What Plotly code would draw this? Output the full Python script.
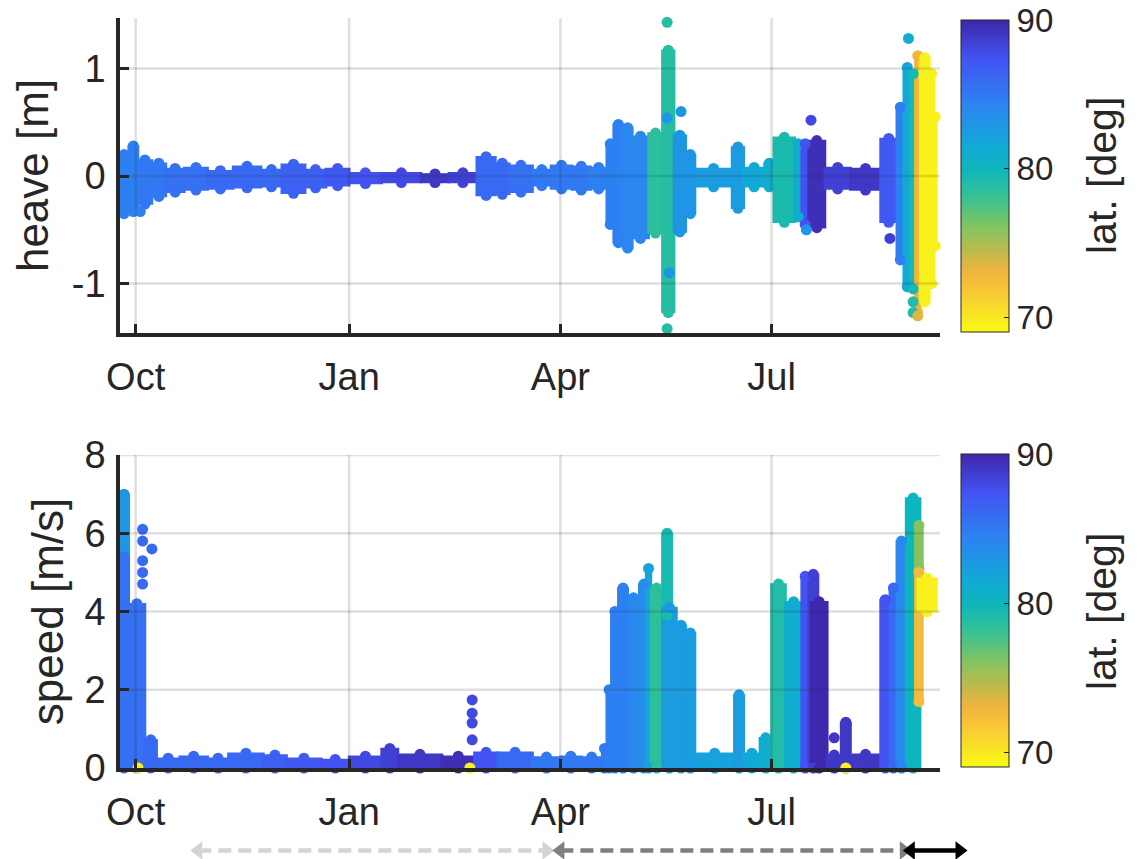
import pandas as pd
import plotly.graph_objects as go

# ---------------- data ----------------
# heave: envelope of the dense point cloud per time segment
heave_start = ["2019-09-24", "2019-09-28", "2019-10-02", "2019-10-08", "2019-10-14", "2019-10-22",
               "2019-11-01", "2019-11-12", "2019-11-24", "2019-12-03", "2019-12-13", "2019-12-22",
               "2020-01-01", "2020-01-15", "2020-02-01", "2020-02-13", "2020-02-25", "2020-03-04",
               "2020-03-10", "2020-03-20", "2020-03-28", "2020-04-06", "2020-04-14", "2020-04-21",
               "2020-04-24", "2020-04-28", "2020-05-02", "2020-05-09", "2020-05-15", "2020-05-20",
               "2020-05-25", "2020-05-29", "2020-06-14", "2020-06-19", "2020-06-28", "2020-07-02",
               "2020-07-11", "2020-07-14", "2020-07-17", "2020-07-24", "2020-08-04", "2020-08-17",
               "2020-08-24", "2020-08-27", "2020-08-30", "2020-09-01", "2020-09-03", "2020-09-07",
               "2020-09-09"]
heave_end = ["2019-09-28", "2019-10-02", "2019-10-08", "2019-10-14", "2019-10-22", "2019-11-01",
             "2019-11-12", "2019-11-24", "2019-12-03", "2019-12-13", "2019-12-22", "2020-01-01",
             "2020-01-15", "2020-02-01", "2020-02-13", "2020-02-25", "2020-03-04", "2020-03-10",
             "2020-03-20", "2020-03-28", "2020-04-06", "2020-04-14", "2020-04-21", "2020-04-24",
             "2020-04-28", "2020-05-02", "2020-05-09", "2020-05-15", "2020-05-20", "2020-05-25",
             "2020-05-29", "2020-06-14", "2020-06-19", "2020-06-28", "2020-07-02", "2020-07-11",
             "2020-07-14", "2020-07-17", "2020-07-24", "2020-08-04", "2020-08-17", "2020-08-24",
             "2020-08-27", "2020-08-30", "2020-09-01", "2020-09-03", "2020-09-07", "2020-09-09",
             "2020-09-10"]
heave_min = [-0.35, -0.33, -0.26, -0.19, -0.15, -0.13, -0.12, -0.11, -0.10, -0.16, -0.11, -0.09,
             -0.07, -0.06, -0.06, -0.06, -0.18, -0.17, -0.15, -0.09, -0.12, -0.13, -0.12, -0.45,
             -0.62, -0.67, -0.58, -0.53, -1.27, -0.52, -0.35, -0.10, -0.30, -0.10, -0.10, -0.43,
             -0.38, -0.45, -0.48, -0.12, -0.13, -0.43, -0.78, -1.03, -1.05, -1.27, -1.17, -1.00,
             -0.65]
heave_max = [0.20, 0.28, 0.15, 0.12, 0.07, 0.08, 0.05, 0.09, 0.06, 0.11, 0.06, 0.07,
             0.03, 0.03, 0.02, 0.03, 0.18, 0.12, 0.10, 0.06, 0.10, 0.09, 0.08, 0.30,
             0.48, 0.45, 0.37, 0.40, 1.17, 0.38, 0.20, 0.07, 0.27, 0.08, 0.12, 0.36,
             0.30, 0.30, 0.33, 0.08, 0.07, 0.35, 0.64, 1.01, 0.95, 1.12, 1.10, 0.95,
             0.55]
heave_lat = [84.5, 84.5, 85, 85, 85.5, 85.5, 86, 86, 86, 86.5, 86.5, 87,
             87.5, 88, 89, 88.5, 86, 86, 85.5, 85, 85, 85, 84.5, 84.5,
             84.5, 84, 84, 78.5, 78.8, 83, 83, 82.5, 82.5, 81.5, 81, 79.3,
             81, 87.5, 89.5, 88.5, 89, 87, 84.5, 81.5, 79.5, 73, 69.5, 69.5,
             69.5]

# isolated heave points
heave_pt_date = ["2019-10-03", "2020-05-17", "2020-05-17", "2020-05-17", "2020-05-18", "2020-05-23",
                 "2020-07-16", "2020-07-18", "2020-08-21", "2020-08-29", "2020-08-31", "2020-08-31",
                 "2020-09-02"]
heave_pt_val = [-0.33, 1.43, -1.42, 0.54, -0.90, 0.60, -0.50, 0.52, -0.58, 1.28, -1.17, -1.27, -1.30]
heave_pt_lat = [84.5, 78.8, 78.8, 83, 83, 83, 83, 88, 88.5, 81, 79, 79, 73.5]

# speed: envelope per time segment
speed_start = ["2019-09-24", "2019-09-24", "2019-09-28", "2019-10-05", "2019-10-10", "2019-10-20",
               "2019-11-01", "2019-11-10", "2019-11-25", "2019-12-05", "2019-12-20", "2020-01-01",
               "2020-01-15", "2020-01-22", "2020-02-10", "2020-02-24", "2020-03-05", "2020-03-20",
               "2020-04-01", "2020-04-10", "2020-04-19", "2020-04-21", "2020-04-23", "2020-04-26",
               "2020-04-30", "2020-05-05", "2020-05-08", "2020-05-10", "2020-05-15", "2020-05-15",
               "2020-05-21", "2020-05-25", "2020-05-29", "2020-06-15", "2020-06-19", "2020-06-26",
               "2020-07-01", "2020-07-07", "2020-07-14", "2020-07-17", "2020-07-18", "2020-07-25",
               "2020-07-31", "2020-08-04", "2020-08-17", "2020-08-21", "2020-08-24", "2020-08-28",
               "2020-09-01", "2020-09-01", "2020-09-02"]
speed_end = ["2019-09-28", "2019-09-28", "2019-10-05", "2019-10-10", "2019-10-20", "2019-11-01",
             "2019-11-10", "2019-11-25", "2019-12-05", "2019-12-20", "2020-01-01", "2020-01-15",
             "2020-01-22", "2020-02-10", "2020-02-24", "2020-03-05", "2020-03-20", "2020-04-01",
             "2020-04-10", "2020-04-19", "2020-04-21", "2020-04-23", "2020-04-26", "2020-04-30",
             "2020-05-05", "2020-05-09", "2020-05-10", "2020-05-15", "2020-05-19", "2020-05-21",
             "2020-05-25", "2020-05-29", "2020-06-15", "2020-06-19", "2020-06-26", "2020-07-01",
             "2020-07-07", "2020-07-14", "2020-07-17", "2020-07-21", "2020-07-25", "2020-07-31",
             "2020-08-04", "2020-08-17", "2020-08-21", "2020-08-24", "2020-08-28", "2020-09-03",
             "2020-09-04", "2020-09-04", "2020-09-10"]
speed_min = [5.4, 0, 0, 0, 0, 0, 0, 0, 0, 0, 0, 0,
             0, 0, 0, 0, 0, 0, 0, 0, 0, 0, 0, 0,
             0, 0, 0, 0, 3.9, 0, 0, 0, 0, 0, 0, 0,
             0, 0, 0, 0, 0, 0, 0, 0, 0, 0, 0, 0,
             5.1, 1.7, 4.0]
speed_max = [7.0, 5.4, 4.2, 0.72, 0.25, 0.30, 0.25, 0.38, 0.33, 0.25, 0.22, 0.30,
             0.50, 0.35, 0.30, 0.40, 0.40, 0.28, 0.30, 0.28, 0.50, 2.0, 4.0, 4.6,
             4.35, 4.7, 5.1, 4.6, 6.0, 4.1, 3.65, 3.45, 0.38, 1.87, 0.38, 0.77,
             4.7, 4.25, 4.9, 4.95, 4.25, 0.33, 1.17, 0.35, 4.3, 4.6, 5.8, 6.9,
             6.2, 5.0, 4.85]
speed_lat = [83, 85.5, 85.5, 86, 86, 86, 86, 86, 86.5, 87, 87.5, 88,
             88.5, 89, 89.5, 87.5, 86, 85, 85, 85, 85, 84.5, 84.5, 84.5,
             84, 83.5, 82, 78.5, 79.5, 82.5, 82.5, 82.5, 82, 82.5, 81.5, 81,
             79, 81, 87.5, 88.5, 89.8, 89, 89, 89, 87.5, 86, 84, 80,
             76, 72.5, 69.5]

# isolated speed points
speed_pt_date = ["2019-10-04", "2019-10-04", "2019-10-08", "2019-10-04", "2019-10-04", "2019-10-04",
                 "2020-02-23", "2020-02-23", "2020-02-23", "2020-02-23", "2020-07-28",
                 "2019-10-02", "2020-02-22", "2020-08-02"]
speed_pt_val = [6.1, 5.8, 5.6, 5.3, 5.0, 4.7, 1.74, 1.40, 1.15, 0.72, 0.77, 0.0, 0.0, 0.0]
speed_pt_lat = [86, 86, 86, 86, 86, 86, 88, 88, 88, 88, 89, 69.5, 69.5, 69.5]

# axes ticks
month_ticks = ["2019-10-01", "2020-01-01", "2020-04-01", "2020-07-01"]
month_labels = ["Oct", "Jan", "Apr", "Jul"]
heave_ticks = [-1, 0, 1]
heave_tick_labels = ["-1", "0", "1"]
speed_ticks = [0, 2, 4, 6, 8]
lat_ticks = [70, 80, 90]

# period arrows below the chart
period_start = ["2019-10-28", "2020-04-01", "2020-08-30"]
period_end = ["2020-03-26", "2020-08-27", "2020-09-20"]
period_color = ["#d4d4d4", "#808080", "#000000"]
period_dash = ["13px,7px", "13px,7px", "solid"]

# ---------------- styling ----------------
FONT = "Liberation Sans, Arial, Helvetica, sans-serif"
INK = "#262626"
x_range = [pd.Timestamp("2019-09-24 06:00"), pd.Timestamp("2020-09-11 14:00")]
parula_r = [[0.00, "#f9fb15"], [0.12, "#f9cb35"], [0.19, "#f2b43c"], [0.25, "#c4b94a"],
            [0.34, "#80c462"], [0.43, "#38c292"], [0.52, "#0db6bb"], [0.60, "#12a8d8"],
            [0.73, "#2c83f2"], [0.88, "#4352f2"], [1.00, "#3e26a8"]]

W, H = 1141, 859
ML = 120
PW = W - ML
main_frac = 820 / PW
arrow_frac = 0.9
DOT = 11
OVERLAP = pd.Timedelta(hours=12)


def segments(start, end, lo, hi, lat, xa, ya, cax):
    s = pd.to_datetime(pd.Series(start))
    e = pd.to_datetime(pd.Series(end))
    mid = s + (e - s) / 2
    width = ((e - s + OVERLAP).dt.total_seconds() * 1000).tolist()
    bar = go.Bar(x=mid, y=[h - l for h, l in zip(hi, lo)], base=lo, width=width, opacity=1,
                 marker=dict(color=lat, coloraxis=cax, opacity=1,
                             line=dict(width=1.5, color=lat, coloraxis=cax)),
                 xaxis=xa, yaxis=ya, hoverinfo="skip")
    cx, cy, cc = [], [], []
    for m, l, h, c in zip(mid, lo, hi, lat):
        cx += [m, m]
        cy += [h, l]
        cc += [c, c]
    caps = go.Scatter(x=cx, y=cy, mode="markers", cliponaxis=False,
                      marker=dict(size=DOT, color=cc, coloraxis=cax, line=dict(width=0)),
                      xaxis=xa, yaxis=ya, hoverinfo="skip")
    return [bar, caps]


def points(dates, vals, lat, xa, ya, cax):
    return go.Scatter(x=pd.to_datetime(pd.Series(dates)), y=vals, mode="markers", cliponaxis=False,
                      marker=dict(size=DOT, color=lat, coloraxis=cax, line=dict(width=0)),
                      xaxis=xa, yaxis=ya, hoverinfo="skip")


fig = go.Figure()
for t in segments(heave_start, heave_end, heave_min, heave_max, heave_lat, "x", "y", "coloraxis"):
    fig.add_trace(t)
fig.add_trace(points(heave_pt_date, heave_pt_val, heave_pt_lat, "x", "y", "coloraxis"))
for t in segments(speed_start, speed_end, speed_min, speed_max, speed_lat, "x2", "y2", "coloraxis2"):
    fig.add_trace(t)
fig.add_trace(points(speed_pt_date, speed_pt_val, speed_pt_lat, "x2", "y2", "coloraxis2"))

# period arrows
for s, e, col, dash in zip(period_start, period_end, period_color, period_dash):
    fig.add_trace(go.Scatter(x=[s, e], y=[0.5, 0.5], mode="lines+markers", cliponaxis=False,
                             line=dict(color=col, width=4.5, dash=dash),
                             marker=dict(symbol=["triangle-left", "triangle-right"], size=16,
                                         color=col, line=dict(width=0)),
                             xaxis="x3", yaxis="y3", hoverinfo="skip"))


def ypix(p):
    return (H - p) / H


def xpix(p):
    return (p - ML) / PW


xcommon = dict(type="date", range=x_range, tickvals=month_ticks, ticktext=month_labels,
               ticks="inside", ticklen=9, tickwidth=3, tickcolor=INK,
               showline=True, linewidth=3.5, linecolor=INK, showgrid=False, zeroline=False,
               tickfont=dict(family=FONT, size=38, color=INK), ticklabelstandoff=8,
               domain=[0, main_frac], automargin=False)
ycommon = dict(ticks="inside", ticklen=9, tickwidth=3, tickcolor=INK,
               showline=True, linewidth=3.5, linecolor=INK, showgrid=False, zeroline=False,
               tickfont=dict(family=FONT, size=38, color=INK), ticklabelstandoff=3,
               automargin=False)

arrow_end = x_range[0] + (x_range[1] - x_range[0]) * (arrow_frac / main_frac)


def cbar(ytop, ln):
    return dict(x=xpix(961), xanchor="left", xpad=0, y=ytop, yanchor="top", ypad=0,
                len=ln, lenmode="pixels", thickness=48,
                outlinewidth=1, outlinecolor=INK,
                tickvals=lat_ticks, ticks="inside", ticklen=5, tickwidth=1, tickcolor=INK,
                tickfont=dict(family=FONT, size=33, color=INK))


TITLE_FONT = dict(family=FONT, size=44, color=INK)

fig.update_layout(
    width=W, height=H,
    margin=dict(l=ML, r=0, t=0, b=0),
    paper_bgcolor="white", plot_bgcolor="white",
    showlegend=False, hovermode=False, barmode="overlay",
    font=dict(family=FONT, color=INK),
    xaxis=dict(xcommon, anchor="y"),
    yaxis=dict(ycommon, anchor="x", domain=[ypix(333), ypix(18)], range=[-1.46, 1.47],
               tickvals=heave_ticks, ticktext=heave_tick_labels,
               title=dict(text="heave [m]", standoff=10, font=TITLE_FONT)),
    xaxis2=dict(xcommon, anchor="y2"),
    yaxis2=dict(ycommon, anchor="x2", domain=[ypix(768), ypix(455)], range=[0, 8],
                tickvals=speed_ticks,
                title=dict(text="speed [m/s]", standoff=8, font=TITLE_FONT)),
    xaxis3=dict(type="date", range=[x_range[0], arrow_end], domain=[0, arrow_frac],
                visible=False, anchor="y3"),
    yaxis3=dict(range=[0, 1], domain=[0, ypix(842)], visible=False, anchor="x3"),
    coloraxis=dict(colorscale=parula_r, cmin=69, cmax=90, colorbar=cbar(ypix(20), 312)),
    coloraxis2=dict(colorscale=parula_r, cmin=69, cmax=90, colorbar=cbar(ypix(454), 313)),
    annotations=[
        dict(text="lat. [deg]", xref="paper", yref="paper", x=xpix(1102), y=ypix(176),
             xanchor="center", yanchor="middle", textangle=-90, showarrow=False,
             font=dict(family=FONT, size=41, color=INK)),
        dict(text="lat. [deg]", xref="paper", yref="paper", x=xpix(1102), y=ypix(612),
             xanchor="center", yanchor="middle", textangle=-90, showarrow=False,
             font=dict(family=FONT, size=41, color=INK)),
    ],
)

# grid lines drawn above the data (translucent, as in the reference)
GRID = dict(color="rgba(38,38,38,0.15)", width=2.5)
shapes = []
for xa, ya in (("x", "y"), ("x2", "y2")):
    for t in month_ticks:
        shapes.append(dict(type="line", xref=xa, yref=ya + " domain", x0=t, x1=t, y0=0, y1=1,
                           line=GRID, layer="above"))
for v in heave_ticks:
    shapes.append(dict(type="line", xref="x domain", yref="y", x0=0, x1=1, y0=v, y1=v,
                       line=GRID, layer="above"))
for v in speed_ticks[1:]:
    shapes.append(dict(type="line", xref="x2 domain", yref="y2", x0=0, x1=1, y0=v, y1=v,
                       line=GRID, layer="above"))
fig.update_layout(shapes=shapes)

fig.write_html("out.html")
